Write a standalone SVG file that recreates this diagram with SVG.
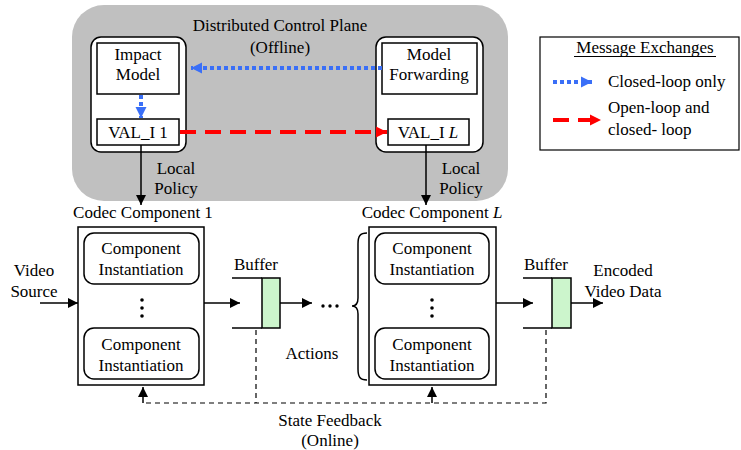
<svg xmlns="http://www.w3.org/2000/svg" width="741" height="450" viewBox="0 0 741 450" font-family="'Liberation Serif', 'DejaVu Serif', serif">
<style>
text{font-family:"Liberation Serif","Times New Roman","DejaVu Serif",serif;font-size:17px;fill:#000}
.c{text-anchor:middle}
.box{fill:#fff;stroke:#000;stroke-width:1.5}
.ln{stroke:#000;stroke-width:1.5;fill:none}
.dash{stroke:#000;stroke-width:1.2;fill:none;stroke-dasharray:5 4}
.blue{stroke:#3a6ff7;stroke-width:4;fill:none;stroke-dasharray:4 3}
.red{stroke:#ff0000;stroke-width:4;fill:none;stroke-dasharray:16 9}
.buf{fill:#ccf5cc;stroke:#000;stroke-width:1.5}
</style>
<defs>
<marker id="ah" viewBox="0 0 10 10" refX="10" refY="5" markerWidth="10" markerHeight="10" markerUnits="userSpaceOnUse" orient="auto"><path d="M0,0L10,5L0,10z" fill="#000"/></marker>
<marker id="ahb" viewBox="0 0 10 10" refX="10" refY="5" markerWidth="11" markerHeight="12" markerUnits="userSpaceOnUse" orient="auto"><path d="M0,0L10,5L0,10z" fill="#3a6ff7"/></marker>
<marker id="ahr" viewBox="0 0 10 10" refX="10" refY="5" markerWidth="11" markerHeight="12" markerUnits="userSpaceOnUse" orient="auto"><path d="M0,0L10,5L0,10z" fill="#ff0000"/></marker>
</defs>

<g id="control-plane">
<rect x="72" y="5" width="436" height="196" rx="32" fill="#c0c0c0"/>
<text class="c" x="280" y="31">Distributed Control Plane</text>
<text class="c" x="280" y="53">(Offline)</text>
</g>

<g id="agent-1">
<rect class="box" x="91" y="37" width="95" height="115" rx="10"/>
</g>
<g id="impact-model">
<rect class="box" x="97" y="43" width="82" height="51"/>
<text class="c" x="138" y="60">Impact</text>
<text class="c" x="138" y="80">Model</text>
</g>
<g id="val-1">
<rect class="box" x="97" y="119" width="82" height="26"/>
<text class="c" x="138" y="138">VAL_I 1</text>
</g>

<g id="agent-L">
<rect class="box" x="376" y="37" width="107" height="115" rx="10"/>
</g>
<g id="model-forwarding">
<rect class="box" x="382" y="43" width="95" height="51"/>
<text class="c" x="429" y="60">Model</text>
<text class="c" x="429" y="80">Forwarding</text>
</g>
<g id="val-L">
<rect class="box" x="388" y="119" width="81" height="26"/>
<text class="c" x="428" y="138">VAL_I <tspan font-style="italic">L</tspan></text>
</g>

<g id="codec-1">
<text class="c" x="143" y="218">Codec Component 1</text>
<rect class="box" x="78" y="227" width="126" height="158"/>
<rect class="box" x="84" y="233" width="115" height="51" rx="10"/>
<text class="c" x="141" y="254">Component</text>
<text class="c" x="141" y="275">Instantiation</text>
<circle cx="142" cy="300" r="1.8"/><circle cx="142" cy="308" r="1.8"/><circle cx="142" cy="316" r="1.8"/>
<rect class="box" x="84" y="328" width="115" height="51" rx="10"/>
<text class="c" x="141" y="350">Component</text>
<text class="c" x="141" y="371">Instantiation</text>
</g>

<g id="codec-L">
<text class="c" x="432" y="218">Codec Component <tspan font-style="italic">L</tspan></text>
<rect class="box" x="369" y="227" width="127" height="158"/>
<rect class="box" x="375" y="233" width="114" height="51" rx="10"/>
<text class="c" x="432" y="254">Component</text>
<text class="c" x="432" y="275">Instantiation</text>
<circle cx="432" cy="300" r="1.8"/><circle cx="432" cy="308" r="1.8"/><circle cx="432" cy="316" r="1.8"/>
<rect class="box" x="375" y="328" width="114" height="51" rx="10"/>
<text class="c" x="432" y="350">Component</text>
<text class="c" x="432" y="371">Instantiation</text>
</g>

<g id="buffer-1">
<text class="c" x="256" y="270">Buffer</text>
<path class="ln" d="M232,278H262M232,328H262"/>
<rect class="buf" x="262" y="278" width="18" height="50"/>
</g>

<g id="buffer-L">
<text class="c" x="546" y="270">Buffer</text>
<path class="ln" d="M523,278H552M523,328H552"/>
<rect class="buf" x="552" y="278" width="19" height="50"/>
</g>

<g id="labels">
<text class="c" x="34" y="276">Video</text>
<text class="c" x="34" y="297">Source</text>
<text class="c" x="623" y="276">Encoded</text>
<text class="c" x="623" y="297">Video Data</text>
<circle cx="323" cy="306" r="1.7"/><circle cx="330" cy="306" r="1.7"/><circle cx="337" cy="306" r="1.7"/>
<text class="c" x="312" y="359">Actions</text>
<path class="ln" d="M367,233C360,233 358,236 358,244V298C358,303 356,306 352,306C356,306 358,309 358,314V369C358,377 360,380 367,380" stroke-width="1.2"/>
<text class="c" x="176" y="174">Local</text>
<text class="c" x="176" y="194">Policy</text>
<text class="c" x="461" y="174">Local</text>
<text class="c" x="461" y="194">Policy</text>
<text class="c" x="330" y="426">State Feedback</text>
<text class="c" x="330" y="446">(Online)</text>
</g>

<g id="connectors">
<path class="blue" d="M382,68H191" marker-end="url(#ahb)"/>
<path class="blue" d="M141,95V118" marker-end="url(#ahb)"/>
<path class="red" d="M180,132H387" marker-end="url(#ahr)"/>
<path class="ln" d="M141,145V205" marker-end="url(#ah)"/>
<path class="ln" d="M426,145V205" marker-end="url(#ah)"/>
<path class="ln" d="M40,303H78" marker-end="url(#ah)"/>
<path class="ln" d="M204,303H240" marker-end="url(#ah)"/>
<path class="ln" d="M280,303H312" marker-end="url(#ah)"/>
<path class="ln" d="M496,303H533" marker-end="url(#ah)"/>
<path class="ln" d="M571,303H603" marker-end="url(#ah)"/>
<path class="dash" d="M256,330V403"/>
<path class="dash" d="M546,330V403H145"/>
<path class="ln" d="M143,403V387" stroke-width="1.2" marker-end="url(#ah)"/>
<path class="ln" d="M432,403V387" stroke-width="1.2" marker-end="url(#ah)"/>
</g>

<g id="legend">
<rect x="540" y="37" width="199" height="113" fill="#fff" stroke="#000" stroke-width="1.2"/>
<text class="c" x="645" y="53">Message Exchanges</text>
<path d="M574,56.5H716" stroke="#000" stroke-width="1"/>
<path class="blue" d="M553,82H592" marker-end="url(#ahb)"/>
<text x="608" y="87">Closed-loop only</text>
<path class="red" d="M553,120H601" marker-end="url(#ahr)" stroke-dasharray="14 10"/>
<text x="608" y="113">Open-loop and</text>
<text x="608" y="135">closed- loop</text>
</g>
</svg>
